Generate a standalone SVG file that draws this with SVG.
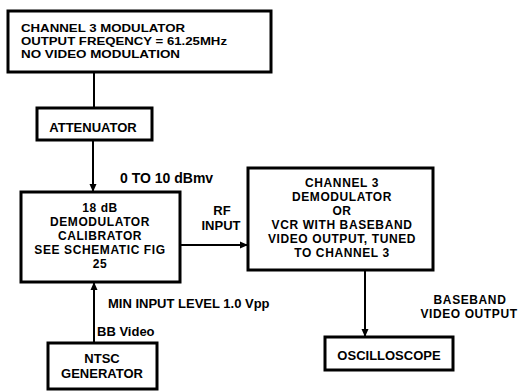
<svg xmlns="http://www.w3.org/2000/svg" width="521" height="391" viewBox="0 0 521 391">
<defs>
<marker id="ah" viewBox="0 0 8 8" refX="8" refY="4" markerWidth="8" markerHeight="8" markerUnits="userSpaceOnUse" orient="auto">
<path d="M0,0.5 L8,4 L0,7.5 Z" fill="#000"/>
</marker>
</defs>
<style>
rect.box { fill: #fff; stroke: #000; stroke-width: 3; }
text { font-family: "Liberation Sans", Arial, sans-serif; font-weight: bold; font-size: 13px; fill: #000; }
text.c { text-anchor: middle; }
.big { font-size: 14px; }
.m { font-size: 12px; letter-spacing: 0.6px; }
.top { font-size: 11px; }
.conn line { stroke: #000; stroke-width: 2; }
</style>
<rect width="521" height="391" fill="#fff"/>
<g class="conn">
<line x1="94" y1="72" x2="94" y2="108"/>
<line x1="93" y1="140" x2="93" y2="192" marker-end="url(#ah)"/>
<line x1="180" y1="245" x2="248" y2="245" marker-end="url(#ah)"/>
<line x1="365" y1="270" x2="365" y2="337" marker-end="url(#ah)"/>
<line x1="94" y1="343" x2="94" y2="282" marker-end="url(#ah)"/>
</g>
<g id="modulator">
<rect class="box" x="8" y="11" width="263" height="61"/>
<text class="top" x="21" y="32" textLength="164" lengthAdjust="spacingAndGlyphs">CHANNEL 3 MODULATOR</text>
<text class="top" x="21" y="45" textLength="206" lengthAdjust="spacingAndGlyphs">OUTPUT FREQENCY = 61.25MHz</text>
<text class="top" x="21" y="58" textLength="159" lengthAdjust="spacingAndGlyphs">NO VIDEO MODULATION</text>
</g>
<g id="attenuator">
<rect class="box" x="37" y="108" width="115" height="32"/>
<text class="c" x="93" y="132">ATTENUATOR</text>
</g>
<g id="calibrator">
<rect class="box" x="21" y="192" width="159" height="90"/>
<text class="c m" x="100" y="212">18 dB</text>
<text class="c m" x="100" y="226">DEMODULATOR</text>
<text class="c m" x="100" y="240">CALIBRATOR</text>
<text class="c m" x="100" y="254">SEE SCHEMATIC FIG</text>
<text class="c m" x="100" y="268">25</text>
</g>
<g id="demodulator">
<rect class="box" x="248" y="168" width="185" height="102"/>
<text class="c m" x="342" y="187">CHANNEL 3</text>
<text class="c m" x="342" y="201">DEMODULATOR</text>
<text class="c m" x="342" y="215">OR</text>
<text class="c m" x="342" y="229">VCR WITH BASEBAND</text>
<text class="c m" x="342" y="243">VIDEO OUTPUT, TUNED</text>
<text class="c m" x="342" y="257">TO CHANNEL 3</text>
</g>
<g id="oscilloscope">
<rect class="box" x="325" y="337" width="128" height="33"/>
<text class="c" x="389" y="360">OSCILLOSCOPE</text>
</g>
<g id="ntsc">
<rect class="box" x="48" y="343" width="109" height="46"/>
<text class="c" x="102" y="363">NTSC</text>
<text class="c" x="102" y="378">GENERATOR</text>
</g>
<g id="labels">
<text class="big" x="120" y="183">0 TO 10 dBmv</text>
<text class="c" x="222" y="215">RF</text>
<text class="c" x="221" y="230">INPUT</text>
<text x="108" y="308">MIN INPUT LEVEL 1.0 Vpp</text>
<text x="97" y="336">BB Video</text>
<text class="c m" x="470" y="304">BASEBAND</text>
<text class="c m" x="469" y="318">VIDEO OUTPUT</text>
</g>
</svg>
